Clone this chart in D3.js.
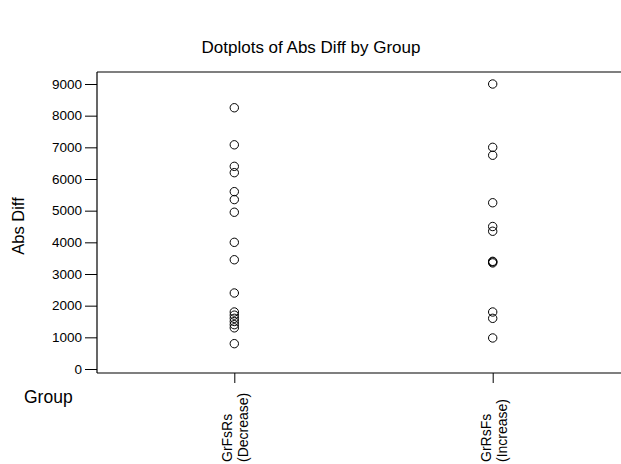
<!DOCTYPE html>
<html>
<head>
<meta charset="utf-8">
<script src="https://cdn.jsdelivr.net/npm/d3@7"></script>
<style>
  html, body { margin: 0; padding: 0; background: #fff; }
  svg { display: block; font-family: "Liberation Sans", Arial, sans-serif; }
</style>
</head>
<body>
<svg id="chart" width="621" height="464"></svg>
<script>
// Group identifiers and their direction notes
const groupNames = ["GrFsRs", "GrRsFs"];
const groupNotes = ["(Decrease)", "(Increase)"];

// Absolute differences observed in each group
const decreaseValues = [8250, 7080, 6400, 6200, 5600, 5350, 4950, 4000, 3450, 2400,
                        1800, 1700, 1600, 1500, 1400, 1300, 800];
const increaseValues = [9000, 7000, 6750, 5250, 4500, 4350, 3400, 3380, 3350,
                        1800, 1600, 980];

// Vertical axis tick values
const yTickValues = [0, 1000, 2000, 3000, 4000, 5000, 6000, 7000, 8000, 9000];

const seriesByGroup = [decreaseValues, increaseValues];
const points = [];
groupNames.forEach((g, i) => seriesByGroup[i].forEach(v => points.push({ group: g, value: v })));

const svg = d3.select("#chart");

const frame = { left: 97, right: 621, top: 72, bottom: 373 };

const x = d3.scalePoint().domain(groupNames).range([234.3, 492.7]);
const y = d3.scaleLinear().domain([0, 9000]).range([369, 84]);

// Title
svg.append("text")
  .attr("x", 311).attr("y", 53)
  .attr("text-anchor", "middle")
  .attr("font-size", 17)
  .text("Dotplots of Abs Diff by Group");

// Frame lines: top, bottom and left (no right side)
const frameG = svg.append("g").attr("stroke", "#000").attr("stroke-width", 1.2).attr("fill", "none");
frameG.append("line").attr("x1", frame.left).attr("x2", frame.right).attr("y1", frame.top).attr("y2", frame.top);
frameG.append("line").attr("x1", frame.left).attr("x2", frame.right).attr("y1", frame.bottom).attr("y2", frame.bottom);

// Y axis
const yAxis = d3.axisLeft(y).tickValues(yTickValues).tickSize(12).tickPadding(3).tickFormat(d3.format("d"));
const yG = svg.append("g").attr("transform", `translate(${frame.left},0)`).call(yAxis);
yG.select(".domain").remove();
yG.selectAll("line").attr("stroke", "#000");
yG.selectAll("text").attr("font-size", 13.5).attr("font-family", "Liberation Sans, Arial, sans-serif").attr("fill", "#000");
yG.append("line").attr("x1", 0).attr("x2", 0).attr("y1", frame.top).attr("y2", frame.bottom)
  .attr("stroke", "#000").attr("stroke-width", 1.2);

// X axis ticks below the frame
const xAxis = d3.axisBottom(x).tickSize(10).tickFormat("");
const xG = svg.append("g").attr("transform", `translate(0,${frame.bottom})`).call(xAxis);
xG.select(".domain").remove();
xG.selectAll("line").attr("stroke", "#000");

// Two-line rotated category labels
groupNames.forEach((g, i) => {
  const cx = x(g);
  svg.append("text")
    .attr("transform", `translate(${cx - 2},462) rotate(-90)`)
    .attr("font-size", 14)
    .attr("text-anchor", "start")
    .text(g);
  svg.append("text")
    .attr("transform", `translate(${cx + 14},462) rotate(-90)`)
    .attr("font-size", 14)
    .attr("text-anchor", "start")
    .text(groupNotes[i]);
});

// Axis titles
svg.append("text")
  .attr("transform", "translate(24,226) rotate(-90)")
  .attr("text-anchor", "middle")
  .attr("font-size", 16.5)
  .text("Abs Diff");

svg.append("text")
  .attr("x", 24).attr("y", 403)
  .attr("font-size", 17.5)
  .text("Group");

// Dots
svg.append("g")
  .selectAll("circle")
  .data(points)
  .join("circle")
  .attr("cx", d => x(d.group))
  .attr("cy", d => y(d.value))
  .attr("r", 4.2)
  .attr("fill", "none")
  .attr("stroke", "#000")
  .attr("stroke-width", 1);
</script>
</body>
</html>
